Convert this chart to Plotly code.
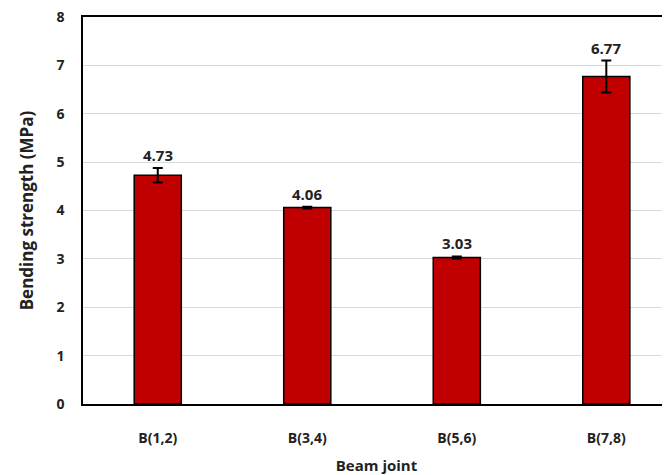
import plotly.graph_objects as go

categories = ["B(1,2)", "B(3,4)", "B(5,6)", "B(7,8)"]
values = [4.73, 4.06, 3.03, 6.77]
errors = [0.15, 0.02, 0.02, 0.33]
value_labels = ["4.73", "4.06", "3.03", "6.77"]
y_ticks = [0, 1, 2, 3, 4, 5, 6, 7, 8]

font_family = "Open Sans, Liberation Sans, sans-serif"

fig = go.Figure()
fig.add_trace(go.Bar(
    x=categories, y=values, width=0.315,
    marker=dict(color="#C00000", line=dict(color="black", width=1.5)),
    error_y=dict(type="data", array=errors, visible=True, color="black",
                 thickness=2, width=5),
    showlegend=False,
))

for c, v, e, t in zip(categories, values, errors, value_labels):
    fig.add_annotation(x=c, y=v + e, text=t, showarrow=False,
                       yanchor="bottom", yshift=1,
                       font=dict(family=font_family, size=15, color="#222",
                                 weight="bold"))

fig.update_layout(
    width=662, height=467,
    margin=dict(l=75, r=0, t=9, b=71, autoexpand=False),
    plot_bgcolor="white", paper_bgcolor="white",
    font=dict(family=font_family, color="#222"),
)
fig.update_xaxes(
    range=[-0.5, 3.426], showline=True, linecolor="black", linewidth=1.5,
    mirror=True, ticks="", showgrid=False, automargin=False,
    tickfont=dict(size=14, family=font_family, weight="bold"), ticklabelstandoff=20,
    title=dict(text="Beam joint", font=dict(size=15, weight="bold"), standoff=27),
)
fig.update_yaxes(
    range=[0, 8], tickvals=y_ticks, showline=True, linecolor="black",
    linewidth=1.5, showgrid=True, gridcolor="#d9d9d9", gridwidth=1,
    ticks="", tickfont=dict(size=14, family=font_family, weight="bold"),
    ticklabelstandoff=14, automargin=False, ticklabeloverflow="allow",
    title=dict(text="Bending strength (MPa)", font=dict(size=17, weight="bold"),
               standoff=18),
    zeroline=False,
)

fig.write_html("out.html")
